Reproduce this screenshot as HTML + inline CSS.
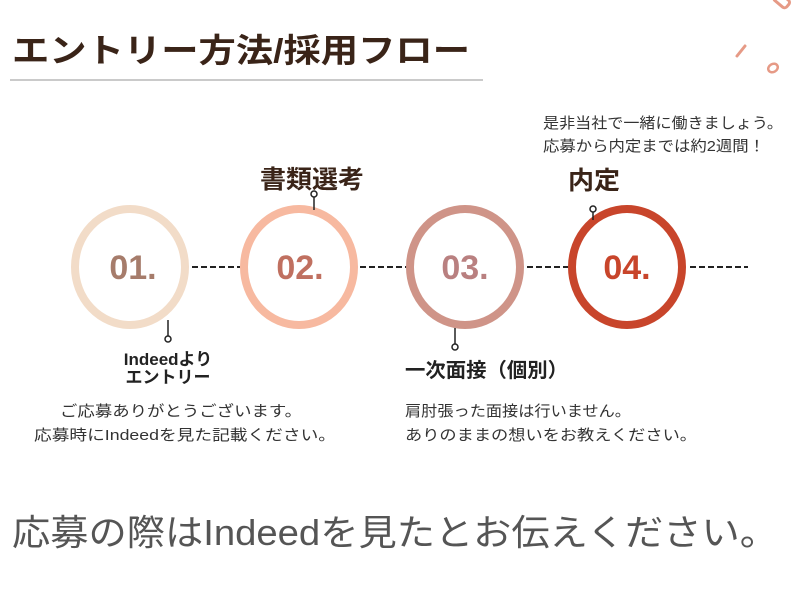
<!DOCTYPE html>
<html><head><meta charset="utf-8"><style>
html,body{margin:0;padding:0;background:#fff;width:800px;height:600px;overflow:hidden}
svg text{font-family:"Liberation Sans","Noto Sans CJK JP",sans-serif}
</style></head><body>
<svg width="800" height="600" viewBox="0 0 800 600" xmlns="http://www.w3.org/2000/svg">
<rect width="800" height="600" fill="#fff"/>
<g stroke="#e69a86" fill="none" stroke-linecap="round">
<rect x="774" y="-4" width="16" height="9" rx="3" transform="rotate(40 782 0)" stroke-width="3"/>
<line x1="737" y1="56" x2="745" y2="46" stroke-width="3"/>
<ellipse cx="773" cy="68" rx="5" ry="4" transform="rotate(-30 773 68)" stroke-width="2.5"/>
</g>
<text x="12" y="62" font-size="33" font-weight="bold" fill="#3a2418" textLength="458" lengthAdjust="spacingAndGlyphs">エントリー方法/採用フロー</text>
<line x1="10" y1="80" x2="483" y2="80" stroke="#aaa" stroke-width="1.2"/>
<text x="543" y="128" font-size="15" fill="#333" textLength="240" lengthAdjust="spacingAndGlyphs">是非当社で一緒に働きましょう。</text>
<text x="543" y="151" font-size="15" fill="#333" textLength="222" lengthAdjust="spacingAndGlyphs">応募から内定までは約2週間！</text>
<g stroke="#222" stroke-width="2" stroke-dasharray="6,3">
<line x1="192" y1="267" x2="240" y2="267"/>
<line x1="360" y1="267" x2="408" y2="267"/>
<line x1="527" y1="267" x2="568" y2="267"/>
<line x1="690" y1="267" x2="748" y2="267"/>
</g>
<ellipse cx="130" cy="267" rx="55" ry="58" fill="none" stroke="#f2dcc8" stroke-width="8"/>
<ellipse cx="299" cy="267" rx="55" ry="58" fill="none" stroke="#f7b9a0" stroke-width="8"/>
<ellipse cx="465" cy="267" rx="55" ry="58" fill="none" stroke="#cf9488" stroke-width="8"/>
<ellipse cx="627" cy="267" rx="55" ry="58" fill="none" stroke="#c8452b" stroke-width="8"/>
<g font-size="34" font-weight="bold" text-anchor="middle">
<text x="133" y="279" fill="#a67c6b">01.</text>
<text x="300" y="279" fill="#c07060">02.</text>
<text x="465" y="279" fill="#b98080">03.</text>
<text x="627" y="279" fill="#c8452b">04.</text>
</g>
<g stroke="#222" stroke-width="1.5" fill="#fff">
<line x1="314" y1="197" x2="314" y2="210"/><circle cx="314" cy="194" r="3"/>
<line x1="168" y1="320" x2="168" y2="336"/><circle cx="168" cy="339" r="3"/>
<line x1="455" y1="328" x2="455" y2="344"/><circle cx="455" cy="347" r="3"/>
<line x1="593" y1="212" x2="593" y2="220"/><circle cx="593" cy="209" r="3"/>
</g>
<text x="260" y="188" font-size="25" font-weight="bold" fill="#3a2418" textLength="104" lengthAdjust="spacingAndGlyphs">書類選考</text>
<text x="568" y="189" font-size="25" font-weight="bold" fill="#3a2418" textLength="52" lengthAdjust="spacingAndGlyphs">内定</text>
<text x="168" y="365" font-size="17" font-weight="bold" fill="#222" text-anchor="middle">Indeedより</text>
<text x="168" y="383" font-size="17" font-weight="bold" fill="#222" text-anchor="middle">エントリー</text>
<text x="405" y="377" font-size="20" font-weight="bold" fill="#222" textLength="163" lengthAdjust="spacingAndGlyphs">一次面接（個別）</text>
<g font-size="15" fill="#333">
<text x="60" y="416" textLength="242" lengthAdjust="spacingAndGlyphs">ご応募ありがとうございます。</text>
<text x="34" y="440" textLength="302" lengthAdjust="spacingAndGlyphs">応募時にIndeedを見た記載ください。</text>
<text x="405" y="416" textLength="226" lengthAdjust="spacingAndGlyphs">肩肘張った面接は行いません。</text>
<text x="405" y="440" textLength="292" lengthAdjust="spacingAndGlyphs">ありのままの想いをお教えください。</text>
</g>
<text x="12" y="545" font-size="36" fill="#555" textLength="766" lengthAdjust="spacingAndGlyphs">応募の際はIndeedを見たとお伝えください。</text>
</svg>
</body></html>
